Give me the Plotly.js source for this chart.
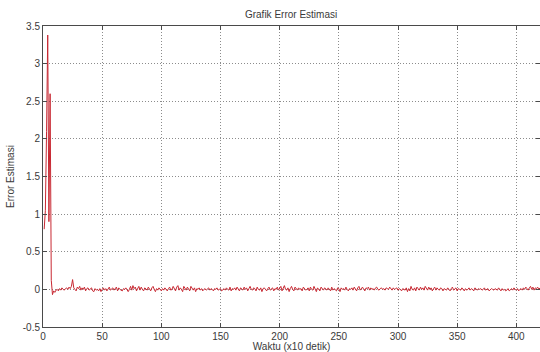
<!DOCTYPE html>
<html>
<head>
<meta charset="utf-8">
<script src="https://cdn.plot.ly/plotly-3.0.1.min.js"></script>
<style>html,body{margin:0;padding:0;background:#fff;}#chart{width:540px;height:352px;}</style>
</head>
<body>
<div id="chart"></div>
<script>
const chartTitle = "Grafik Error Estimasi";
const xLabel = "Waktu (x10 detik)";
const yLabel = "Error Estimasi";
const xTicks = [0, 50, 100, 150, 200, 250, 300, 350, 400];
const yTicks = [-0.5, 0, 0.5, 1, 1.5, 2, 2.5, 3, 3.5];
const errorValues = [
0.8,1.05,2.1,3.38,0.9,2.6,0.12,-0.07,-0.02,-0.04,-0.01,0.00,-0.02,0.01,-0.01,0.02,0.00,-0.01,0.01,0.02,
0.00,0.03,0.01,0.04,0.13,0.02,0.00,-0.02,0.03,0.01,0.04,-0.01,0.02,0.00,0.03,-0.02,0.01,0.02,-0.01,0.00,
0.02,-0.02,-0.03,0.01,-0.01,0.00,-0.02,0.01,-0.03,0.00,0.02,-0.01,0.01,-0.02,0.00,0.03,-0.01,0.01,0.02,-0.01,
0.01,0.03,-0.02,0.02,0.00,-0.01,-0.02,0.01,0.00,0.02,-0.01,-0.03,0.00,0.04,-0.01,0.05,0.01,0.03,-0.02,0.02,
0.04,-0.01,0.03,0.00,-0.02,0.02,0.01,-0.01,0.03,0.00,-0.02,0.02,0.04,0.00,-0.03,0.01,-0.01,0.02,0.00,-0.02,
0.01,-0.01,0.02,0.00,-0.02,0.01,0.03,-0.01,0.00,0.04,0.01,-0.02,0.03,0.05,-0.01,0.02,0.00,-0.03,0.04,0.01,
-0.01,0.03,0.00,-0.02,0.04,0.01,-0.01,0.02,-0.03,0.01,0.00,0.02,-0.01,0.01,-0.02,0.00,0.01,-0.01,0.00,0.02,
-0.01,0.01,0.00,-0.02,0.01,0.00,0.02,-0.01,0.00,0.01,-0.02,0.00,0.01,-0.01,0.02,0.00,-0.01,0.03,-0.02,0.01,
0.00,0.02,-0.01,0.03,0.00,-0.02,0.02,0.01,-0.01,0.03,0.00,0.02,-0.02,0.01,0.04,0.00,-0.01,0.02,0.01,-0.02,
0.03,0.00,-0.01,0.02,-0.03,0.01,0.02,0.00,-0.02,0.01,0.03,-0.01,0.00,0.02,-0.02,0.01,0.00,0.03,-0.01,0.02,
0.04,-0.02,0.01,0.05,0.00,-0.01,0.02,-0.03,0.01,0.04,0.00,-0.02,0.03,0.01,-0.01,0.02,0.00,0.01,-0.02,0.03,
0.01,-0.01,0.00,0.02,-0.02,0.03,0.00,-0.01,0.04,0.01,-0.03,0.02,0.00,-0.02,0.03,0.01,-0.01,0.02,0.00,-0.01,
0.02,0.00,-0.02,0.03,-0.01,0.01,0.00,-0.02,0.02,0.01,-0.03,0.02,0.00,0.01,-0.01,0.03,0.00,-0.02,0.01,0.00,
0.02,-0.01,0.03,0.01,-0.02,0.02,0.04,-0.01,0.01,0.03,0.00,-0.02,0.02,0.01,0.03,-0.01,0.02,0.00,0.01,-0.01,
0.02,0.03,0.00,-0.01,0.01,0.02,0.00,0.01,-0.01,0.02,0.01,0.00,0.03,0.01,-0.01,0.02,0.00,0.01,0.02,-0.01,
0.01,0.00,-0.02,0.01,0.00,-0.01,0.02,-0.03,0.01,-0.02,0.04,0.00,-0.01,0.02,-0.02,0.03,0.01,-0.01,0.03,0.00,
0.02,-0.01,0.04,0.01,-0.01,0.03,0.00,0.02,-0.02,0.01,0.03,-0.01,0.02,0.00,-0.01,0.02,0.01,-0.02,0.01,0.00,
-0.01,0.02,0.00,-0.02,0.01,0.03,-0.01,0.00,0.02,-0.02,0.01,0.00,-0.01,0.02,0.00,-0.02,0.01,-0.01,0.00,0.02,
-0.01,0.01,0.00,-0.02,0.02,0.00,-0.01,0.01,0.00,0.01,-0.01,0.00,0.02,-0.01,0.00,0.01,-0.02,0.00,0.01,0.00,
-0.01,0.01,0.00,-0.01,0.02,0.00,-0.02,0.01,-0.01,0.00,-0.02,-0.01,0.01,-0.02,0.00,0.01,-0.01,0.02,0.00,-0.01,
0.01,-0.02,0.00,0.01,-0.01,0.02,0.00,0.03,0.01,-0.01,0.02,0.04,0.00,0.03,-0.01,0.02,0.01,0.03,0.00,0.02
];
const timeSteps = errorValues.map((_, i) => i + 1);

const font = {family: "Liberation Sans, Arial, sans-serif", size: 10, color: "#3a3a3a"};
const axisCommon = {
  showline: true, linecolor: "#4a4a4a", linewidth: 1, mirror: "ticks",
  ticks: "inside", ticklen: 4, tickcolor: "#4a4a4a",
  showgrid: true, gridcolor: "#8c8c8c", griddash: "1px,2px", gridwidth: 1,
  zeroline: false, tickfont: font, automargin: false
};
Plotly.newPlot("chart", [{
  x: timeSteps, y: errorValues, type: "scatter", mode: "lines",
  line: {color: "rgb(200,40,50)", width: 1}, hoverinfo: "none"
}], {
  width: 540, height: 352,
  margin: {l: 43, r: 0, t: 26, b: 25},
  paper_bgcolor: "#fff", plot_bgcolor: "#fff",
  showlegend: false,
  font: font,
  title: {text: chartTitle, font: font, x: 0.539, xanchor: "center", y: 1 - 14/352, yanchor: "middle", yref: "container"},
  xaxis: Object.assign({}, axisCommon, {
    range: [0, 420], tickvals: xTicks, ticktext: xTicks.map(String),
    title: {text: xLabel, font: font, standoff: 1}
  }),
  yaxis: Object.assign({}, axisCommon, {
    range: [-0.5, 3.5], tickvals: yTicks, ticktext: yTicks.map(String),
    title: {text: yLabel, font: font, standoff: 6}
  })
}, {staticPlot: true});
</script>
</body>
</html>
